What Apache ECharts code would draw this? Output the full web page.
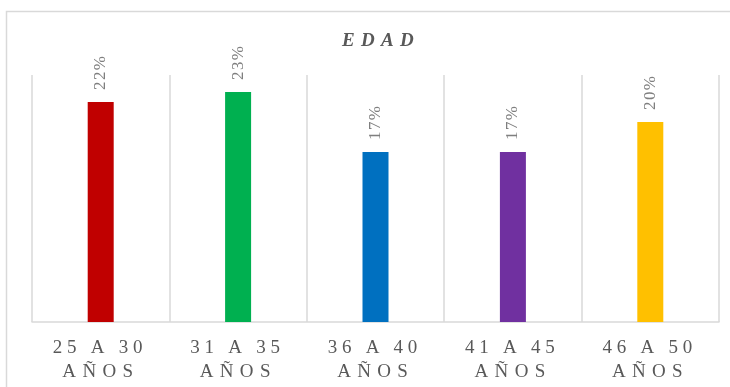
<!DOCTYPE html>
<html>
<head>
<meta charset="utf-8">
<script src="https://cdn.jsdelivr.net/npm/echarts@6/dist/echarts.min.js"></script>
<style>
  html, body { margin: 0; padding: 0; background: #fff; }
  #chart { width: 730px; height: 387px; }
</style>
</head>
<body>
<div id="chart"></div>
<script>
// Age groups and their share of respondents (percent)
const categories = ['25 A 30', '31 A 35', '36 A 40', '41 A 45', '46 A 50'];
const unitLine = 'AÑOS';
const shares = [22, 23, 17, 17, 20];
const barColors = ['#C00000', '#00B050', '#0070C0', '#7030A0', '#FFC000'];
const chartTitle = 'EDAD';

// Widen the tracking of a string by placing a narrow space between glyphs
function spread(text, gap) {
  return Array.from(text).join(gap);
}

const serif = '"Liberation Serif", "Times New Roman", "DejaVu Serif", serif';

const chart = echarts.init(document.getElementById('chart'), null, { renderer: 'canvas' });

chart.setOption({
  animation: false,
  backgroundColor: '#ffffff',
  graphic: [{
    // outer chart frame: only its top and left edges fall inside the view
    type: 'polyline',
    shape: { points: [[6.5, 400], [6.5, 11.5], [740, 11.5]] },
    style: { fill: 'none', stroke: '#d9d9d9', lineWidth: 1.5 },
    silent: true,
    z: -1
  }],
  title: {
    text: spread(chartTitle, '\u2004'),
    left: 337,
    top: 27,
    textStyle: {
      fontFamily: serif,
      fontStyle: 'italic',
      fontWeight: 'bold',
      fontSize: 19,
      color: '#595959'
    }
  },
  grid: { left: 32, right: 11, top: 75, bottom: 65, containLabel: false },
  xAxis: {
    type: 'category',
    data: categories,
    axisTick: { show: false },
    axisLine: { lineStyle: { color: '#d9d9d9', width: 1.5 } },
    splitLine: { show: true, lineStyle: { color: '#d9d9d9', width: 1.5 } },
    axisLabel: {
      margin: 14,
      interval: 0,
      fontFamily: serif,
      fontSize: 19,
      lineHeight: 24,
      color: '#595959',
      padding: [0, 6, 0, 0],
      formatter: function (v) {
        return spread(v, '\u2005') + '\n' + spread(unitLine, '\u2004');
      }
    }
  },
  yAxis: {
    type: 'value',
    min: 0,
    max: 24.7,
    show: false,
    splitLine: { show: false }
  },
  series: [{
    type: 'bar',
    barWidth: 26,
    data: shares.map(function (v, i) {
      return { value: v, itemStyle: { color: barColors[i] } };
    }),
    label: {
      show: true,
      position: 'top',
      rotate: 90,
      align: 'left',
      verticalAlign: 'middle',
      distance: 12,
      fontFamily: serif,
      fontSize: 17,
      color: '#7f7f7f',
      formatter: function (p) {
        return spread(p.value + '%', '\u200A');
      }
    }
  }]
});
</script>
</body>
</html>
